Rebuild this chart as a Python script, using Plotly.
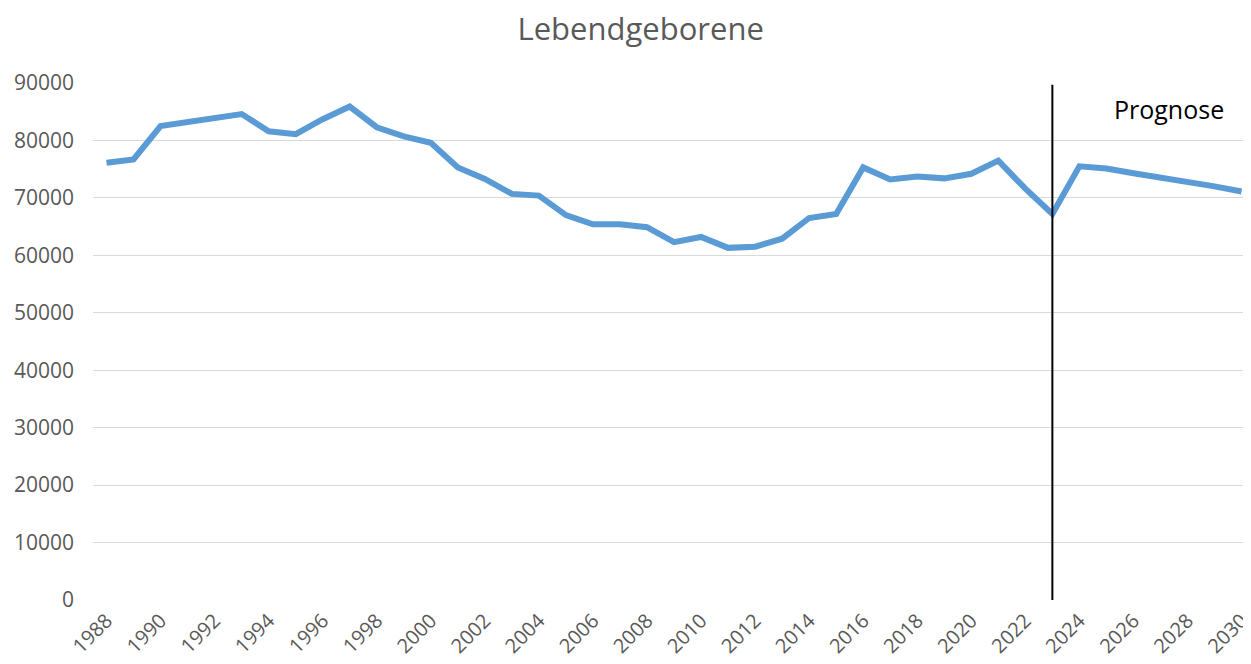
import plotly.graph_objects as go

years = list(range(1988, 2031))
births = [76100, 76700, 82500, 83200, 83700, 84600, 81600, 81100, 83700, 85900,
          82300, 80700, 79600, 75300, 73300, 70700, 70400, 67000, 65400, 65400,
          64900, 62300, 63200, 61300, 61500, 62900, 66500, 67200, 75300, 73200,
          73700, 73400, 74200, 76500, 71600, 67200, 75500, 75100, 74300, 73600,
          72800, 72000, 71100]
tick_years = list(range(1988, 2031, 2))
forecast_start = 2023
title_text = "Lebendgeborene"
forecast_label = "Prognose"

grey = "#595959"
font_family = "Open Sans, Liberation Sans, sans-serif"

fig = go.Figure()
fig.add_trace(go.Scatter(
    x=years, y=births, mode="lines",
    line=dict(color="#5B9BD5", width=6),
    hoverinfo="x+y", showlegend=False,
))

fig.add_shape(type="line", xref="x", yref="y",
              x0=forecast_start, x1=forecast_start, y0=0, y1=89700,
              line=dict(color="black", width=2))

fig.add_annotation(x=2027.3, y=85500, xref="x", yref="y",
                   text=forecast_label, showarrow=False,
                   font=dict(family=font_family, size=25, color="black"))

# the page body has an 8px margin, so the figure is sized/offset to compensate
fig.update_layout(
    width=1243, height=656,
    margin=dict(l=85, r=0, t=75, b=64, autoexpand=False),
    paper_bgcolor="white", plot_bgcolor="white",
    title=dict(text=title_text, x=0.509, xanchor="center", y=0.968, yanchor="middle",
               font=dict(family=font_family, size=31, color=grey)),
    font=dict(family=font_family, color=grey),
)
fig.update_xaxes(
    range=[1987.5, 2030.35], automargin=False,
    tickmode="array", tickvals=tick_years, ticktext=[str(y) for y in tick_years],
    tickangle=-45, tickfont=dict(size=20, color=grey), ticklabeloverflow="allow",
    showgrid=False, zeroline=False, showline=False, ticks="", ticklabelstandoff=4,
)
fig.update_yaxes(
    range=[0, 90000], dtick=10000, tickformat="d", automargin=False,
    tickfont=dict(size=21, color=grey),
    showgrid=True, gridcolor="#d9d9d9", gridwidth=1.2,
    zeroline=False, showline=False, ticks="", ticklabelstandoff=18,
)

fig.write_html("out.html")
